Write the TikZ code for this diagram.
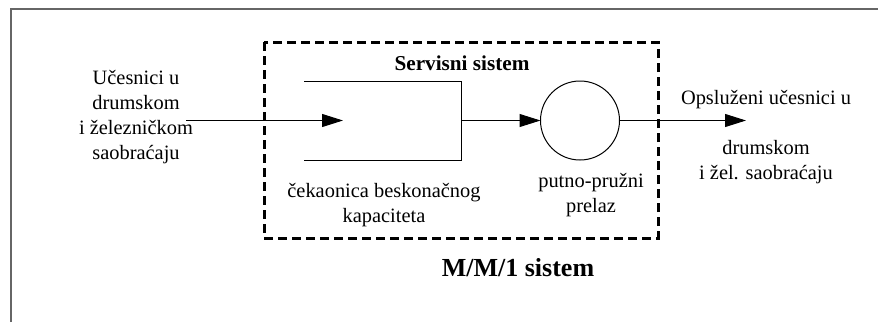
\documentclass[tikz,border=0pt]{standalone}
\usepackage{fontspec}
\setmainfont{Liberation Serif}
\usetikzlibrary{arrows.meta}

\tikzset{
  tekst/.style={align=center,font=\fontsize{10.2}{12.4}\selectfont},
  tok/.style={-{Triangle[length=10.5pt,width=6.5pt]},line width=0.5pt},
  granica/.style={dash pattern=on 4.5pt off 2.5pt,line width=1.5pt},
}

\begin{document}
\begin{tikzpicture}[x=0.5pt,y=-0.5pt]
\useasboundingbox (0,0) rectangle (878,322);
% okvir
\draw[black!60,line width=1pt] (11,322) -- (11,9) -- (878,9);

% servisni sistem
\draw[granica] (264,42) rectangle (658,238);
\node[font=\fontsize{10.6}{12}\selectfont\bfseries] (naslov) at (462,63) {Servisni sistem};
\node[font=\fontsize{13}{15}\selectfont\bfseries] (mm1) at (518,268) {M/M/1 sistem};

% cekaonica i prelaz
\node[minimum width=78.5pt,minimum height=39.5pt,inner sep=0pt,outer sep=0pt] (red) at (382.5,120.5) {};
\draw[line width=0.5pt] (red.north west) -- (red.north east) -- (red.south east) -- (red.south west);
\node[circle,draw,line width=0.5pt,minimum size=39.5pt,inner sep=0pt,outer sep=0pt] (prelaz) at (580,120.5) {};

\coordinate (ulaz) at (186,120.5);
\coordinate (dolazak) at (343,120.5);
\coordinate (izlaz) at (746,120.5);

\draw[tok] (ulaz) -- (dolazak);
\draw[tok] (red.east) -- (prelaz.west);
\draw[tok] (prelaz.east) -- (izlaz);

% tekstovi
\node[tekst] (ucesnici) at (136,117) {U\v{c}esnici u\\drumskom\\i \v{z}elezni\v{c}kom\\saobra\'{c}aju};
\node[tekst] (cek) at (384,205) {\v{c}ekaonica beskona\v{c}nog\\kapaciteta};
\node[tekst] (pp) at (591,195) {putno-pru\v{z}ni\\prelaz};
\node[tekst] (opsl) at (766,100) {Opslu\v{z}eni u\v{c}esnici u};
\node[tekst] (drum) at (766,162) {drumskom\\i \v{z}el. saobra\'{c}aju};
\end{tikzpicture}
\end{document}
